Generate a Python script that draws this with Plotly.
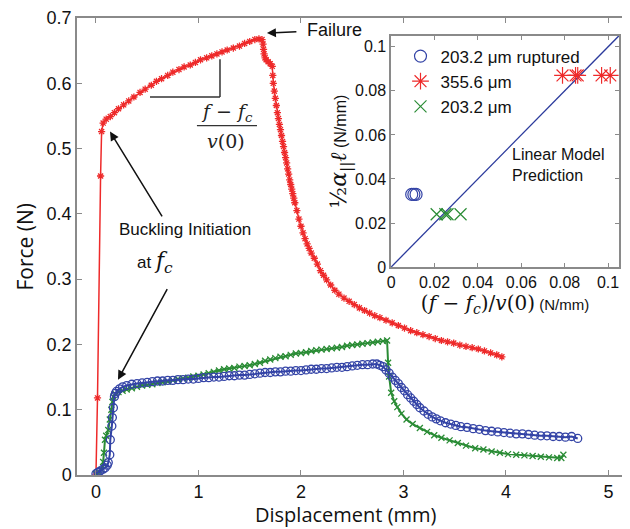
import plotly.graph_objects as go

# ---------------- main curves (Displacement mm, Force N) ----------------
red_x = [0.0, 0.015, 0.045, 0.055, 0.07, 0.10, 0.14, 0.18, 0.22, 0.27, 0.32, 0.37, 0.43, 0.48, 0.54, 0.59,
         0.64, 0.70, 0.75, 0.81, 0.86, 0.92, 0.97, 1.02, 1.08, 1.13, 1.18, 1.23, 1.28, 1.34, 1.40, 1.45,
         1.50, 1.55, 1.59, 1.62, 1.63, 1.635, 1.64, 1.65, 1.66, 1.68, 1.70, 1.72, 1.725, 1.73, 1.74, 1.75,
         1.76, 1.77, 1.78, 1.79, 1.80, 1.81, 1.82, 1.83, 1.84, 1.85, 1.86, 1.87, 1.88, 1.89, 1.90, 1.91,
         1.92, 1.93, 1.94, 1.96, 1.98, 2.00, 2.02, 2.04, 2.06, 2.08, 2.10, 2.13, 2.16, 2.19, 2.22, 2.25,
         2.29, 2.33, 2.37, 2.42, 2.47, 2.52, 2.57, 2.62, 2.67, 2.72, 2.77, 2.83, 2.89, 2.95, 3.01, 3.07,
         3.13, 3.19, 3.25, 3.31, 3.37, 3.43, 3.49, 3.55, 3.61, 3.67, 3.73, 3.79, 3.85, 3.91, 3.96]
red_y = [0.0, 0.118, 0.458, 0.526, 0.539, 0.545, 0.549, 0.555, 0.561, 0.567, 0.573, 0.579, 0.586, 0.591, 0.597, 0.603,
         0.607, 0.612, 0.617, 0.621, 0.625, 0.628, 0.632, 0.636, 0.639, 0.642, 0.645, 0.648, 0.651, 0.654, 0.657, 0.661,
         0.664, 0.667, 0.668, 0.667, 0.660, 0.652, 0.645, 0.639, 0.636, 0.633, 0.630, 0.626, 0.612, 0.600, 0.588, 0.577,
         0.566, 0.555, 0.546, 0.537, 0.529, 0.520, 0.511, 0.503, 0.494, 0.486, 0.478, 0.469, 0.461, 0.452, 0.445, 0.438,
         0.431, 0.424, 0.417, 0.405, 0.392, 0.381, 0.371, 0.362, 0.354, 0.347, 0.340, 0.332, 0.323, 0.313, 0.306, 0.299,
         0.291, 0.283, 0.277, 0.271, 0.266, 0.261, 0.256, 0.252, 0.248, 0.244, 0.241, 0.237, 0.233, 0.229, 0.225, 0.221,
         0.218, 0.215, 0.212, 0.209, 0.206, 0.204, 0.202, 0.199, 0.197, 0.195, 0.193, 0.190, 0.187, 0.184, 0.181]

blue_x = [0.0, 0.02, 0.04, 0.07, 0.09, 0.11, 0.12, 0.135, 0.14, 0.155, 0.16, 0.17, 0.18, 0.19, 0.20, 0.23, 0.26,
          0.30, 0.35, 0.40, 0.45, 0.50, 0.55, 0.60, 0.65, 0.70, 0.75, 0.80, 0.85, 0.90, 0.95, 1.00, 1.05, 1.10,
          1.15, 1.20, 1.25, 1.30, 1.35, 1.40, 1.45, 1.50, 1.55, 1.60, 1.65, 1.70, 1.75, 1.80, 1.85, 1.90, 1.95,
          2.00, 2.05, 2.10, 2.15, 2.20, 2.25, 2.30, 2.35, 2.40, 2.45, 2.50, 2.55, 2.60, 2.65, 2.70, 2.74, 2.77,
          2.80, 2.83, 2.86, 2.89, 2.92, 2.95, 2.98, 3.01, 3.04, 3.07, 3.10, 3.13, 3.16, 3.20, 3.24, 3.28, 3.32,
          3.36, 3.41, 3.46, 3.51, 3.56, 3.62, 3.68, 3.74, 3.80, 3.86, 3.92, 3.98, 4.04, 4.10, 4.16, 4.22, 4.28,
          4.34, 4.40, 4.46, 4.52, 4.58, 4.64, 4.70]
blue_y = [0.002, 0.004, 0.006, 0.009, 0.011, 0.015, 0.019, 0.031, 0.054, 0.075, 0.088, 0.103, 0.120, 0.125, 0.128, 0.132, 0.135,
          0.137, 0.139, 0.140, 0.141, 0.142, 0.143, 0.144, 0.144, 0.145, 0.145, 0.146, 0.146, 0.147, 0.147, 0.148, 0.149, 0.149,
          0.150, 0.150, 0.151, 0.152, 0.152, 0.153, 0.153, 0.154, 0.155, 0.156, 0.157, 0.157, 0.158, 0.158, 0.159, 0.159, 0.160,
          0.160, 0.161, 0.162, 0.162, 0.163, 0.163, 0.164, 0.165, 0.165, 0.166, 0.167, 0.168, 0.169, 0.169, 0.170, 0.170, 0.168,
          0.166, 0.161, 0.156, 0.150, 0.145, 0.140, 0.134, 0.129, 0.123, 0.118, 0.113, 0.108, 0.103, 0.098, 0.093, 0.089, 0.086,
          0.083, 0.080, 0.078, 0.076, 0.074, 0.073, 0.071, 0.070, 0.068, 0.067, 0.066, 0.065, 0.064, 0.063, 0.063, 0.062, 0.061,
          0.060, 0.060, 0.059, 0.059, 0.058, 0.059, 0.056]

green_x = [0.0, 0.03, 0.055, 0.07, 0.078, 0.088, 0.10, 0.12, 0.135, 0.15, 0.16, 0.17, 0.19, 0.22, 0.26, 0.30, 0.35,
           0.40, 0.45, 0.50, 0.55, 0.60, 0.65, 0.70, 0.75, 0.80, 0.85, 0.90, 0.95, 1.00, 1.05, 1.10, 1.15, 1.20,
           1.25, 1.30, 1.35, 1.40, 1.45, 1.50, 1.55, 1.60, 1.65, 1.70, 1.75, 1.80, 1.85, 1.90, 1.95, 2.00, 2.05,
           2.10, 2.15, 2.20, 2.25, 2.30, 2.35, 2.40, 2.45, 2.50, 2.55, 2.60, 2.65, 2.70, 2.75, 2.80, 2.84, 2.85,
           2.86, 2.88, 2.91, 2.94, 2.98, 3.03, 3.09, 3.16, 3.23, 3.30, 3.37, 3.45, 3.53, 3.61, 3.70, 3.78, 3.86,
           3.94, 4.02, 4.10, 4.18, 4.26, 4.34, 4.42, 4.50, 4.54, 4.56]
green_y = [0.002, 0.004, 0.008, 0.020, 0.034, 0.054, 0.060, 0.069, 0.085, 0.100, 0.112, 0.120, 0.124, 0.127, 0.129, 0.131, 0.133,
           0.135, 0.137, 0.138, 0.139, 0.141, 0.142, 0.143, 0.145, 0.147, 0.148, 0.149, 0.151, 0.152, 0.154, 0.156, 0.158, 0.160,
           0.162, 0.163, 0.164, 0.166, 0.167, 0.168, 0.170, 0.172, 0.175, 0.177, 0.179, 0.181, 0.182, 0.184, 0.186, 0.187, 0.188,
           0.190, 0.191, 0.192, 0.193, 0.194, 0.195, 0.196, 0.198, 0.199, 0.200, 0.201, 0.202, 0.203, 0.204, 0.205, 0.206, 0.172,
           0.151, 0.126, 0.113, 0.104, 0.094, 0.085, 0.078, 0.072, 0.066, 0.061, 0.057, 0.053, 0.049, 0.045, 0.041, 0.039, 0.036,
           0.034, 0.032, 0.031, 0.030, 0.029, 0.028, 0.027, 0.026, 0.026, 0.031]

# ---------------- inset data ----------------
ins_blue_x = [0.0095, 0.0105, 0.0115]
ins_blue_y = [0.033, 0.033, 0.033]
ins_red_x = [0.079, 0.085, 0.086, 0.097, 0.101]
ins_red_y = [0.087, 0.087, 0.087, 0.087, 0.087]
ins_green_x = [0.021, 0.025, 0.026, 0.032]
ins_green_y = [0.024, 0.024, 0.024, 0.024]
model_x = [0.0, 0.105]
model_y = [0.0, 0.105]

main_xticks = [0, 1, 2, 3, 4, 5]
main_yticks = [0, 0.1, 0.2, 0.3, 0.4, 0.5, 0.6, 0.7]
ins_ticks = [0, 0.02, 0.04, 0.06, 0.08, 0.1]
ins_ticktext = ["0", "0.02", "0.04", "0.06", "0.08", "0.1"]

RED = "#ee2a2a"
BLUE = "#3343a6"
GREEN = "#2a8c35"
AXC = "#8a8a8a"
SANS = "Liberation Sans, Arial, sans-serif"
SERIF = "DejaVu Serif, serif"

fig = go.Figure()

fig.add_trace(go.Scatter(x=red_x, y=red_y, mode="lines+markers", showlegend=False,
                         line=dict(color=RED, width=1.5),
                         marker=dict(symbol="asterisk-open", size=6, color=RED, line=dict(color=RED, width=1.3))))
fig.add_trace(go.Scatter(x=green_x, y=green_y, mode="lines+markers", showlegend=False,
                         line=dict(color=GREEN, width=2),
                         marker=dict(symbol="x-thin-open", size=6, color=GREEN, line=dict(color=GREEN, width=1.3))))
fig.add_trace(go.Scatter(x=blue_x, y=blue_y, mode="lines+markers", showlegend=False,
                         line=dict(color=BLUE, width=2),
                         marker=dict(symbol="circle-open", size=8, color=BLUE, line=dict(color=BLUE, width=1.3))))

# inset
fig.add_trace(go.Scatter(x=model_x, y=model_y, mode="lines", xaxis="x2", yaxis="y2", showlegend=False,
                         line=dict(color="#2b3a9c", width=1.3)))
fig.add_trace(go.Scatter(x=ins_blue_x, y=ins_blue_y, mode="markers", xaxis="x2", yaxis="y2",
                         name="203.2 μm ruptured",
                         marker=dict(symbol="circle-open", size=12, color=BLUE, line=dict(color=BLUE, width=1.2))))
fig.add_trace(go.Scatter(x=ins_red_x, y=ins_red_y, mode="markers", xaxis="x2", yaxis="y2",
                         name="355.6 μm",
                         marker=dict(symbol="asterisk-open", size=14, color=RED, line=dict(color=RED, width=1.2))))
fig.add_trace(go.Scatter(x=ins_green_x, y=ins_green_y, mode="markers", xaxis="x2", yaxis="y2",
                         name="203.2 μm",
                         marker=dict(symbol="x-thin-open", size=12, color=GREEN, line=dict(color=GREEN, width=1.2))))

ann = []
arrow = dict(showarrow=True, arrowhead=2, arrowsize=1.2, arrowwidth=1.5, arrowcolor="#111",
             axref="x", ayref="y", xref="x", yref="y", text="")
ann.append(dict(arrow, x=1.668, y=0.677, ax=1.97, ay=0.679))
ann.append(dict(arrow, x=0.137, y=0.526, ax=0.654, ay=0.394))
ann.append(dict(arrow, x=0.215, y=0.146, ax=0.703, ay=0.287))
ann.append(dict(x=2.33, y=0.682, xref="x", yref="y", text="Failure", showarrow=False,
                font=dict(family=SANS, size=18, color="#111")))
ann.append(dict(x=0.87, y=0.376, xref="x", yref="y", text="Buckling Initiation", showarrow=False,
                font=dict(family=SANS, size=17, color="#111")))
ann.append(dict(x=0.58, y=0.326, xref="x", yref="y",
                text="at <span style=\"font-family:DejaVu Serif;font-size:22px\"><i>f</i><sub><i>c</i></sub></span>",
                showarrow=False, font=dict(family=SANS, size=17, color="#111")))
ann.append(dict(x=1.28, y=0.556, xref="x", yref="y", text="<i>f</i> − <i>f</i><sub><i>c</i></sub>",
                showarrow=False, font=dict(family=SERIF, size=19, color="#222")))
ann.append(dict(x=1.27, y=0.512, xref="x", yref="y", text="<i>v</i>(0)",
                showarrow=False, font=dict(family=SERIF, size=19, color="#222")))
ann.append(dict(x=0.055, y=0.0465, xref="x2", yref="y2", xanchor="left", align="left",
                text="Linear Model<br>Prediction", showarrow=False,
                font=dict(family=SANS, size=16, color="#111")))
# main axis titles
ann.append(dict(x=0.486, y=0, xref="paper", yref="paper", yanchor="middle", yshift=-39,
                text="Displacement (mm)", showarrow=False,
                font=dict(family="Open Sans, sans-serif", size=20, color="#111")))
ann.append(dict(x=0, y=0.5, xref="paper", yref="paper", xanchor="center", xshift=-53, textangle=-90,
                text="Force (N)", showarrow=False,
                font=dict(family="Open Sans, sans-serif", size=21, color="#111")))

shapes = [
    dict(type="line", xref="x", yref="y", x0=0.527, y0=0.579, x1=1.21, y1=0.579, line=dict(color="#333", width=1.5)),
    dict(type="line", xref="x", yref="y", x0=1.21, y0=0.579, x1=1.21, y1=0.637, line=dict(color="#333", width=1.5)),
    dict(type="line", xref="x", yref="y", x0=0.985, y0=0.535, x1=1.571, y1=0.535, line=dict(color="#333", width=1.2)),
]

axis_common = dict(showline=True, linecolor=AXC, linewidth=1.5, ticks="inside", tickcolor=AXC,
                   ticklen=5, tickwidth=1.2, showgrid=False, zeroline=False, automargin=False,
                   tickfont=dict(family=SANS, size=18, color="#111"))

# page body adds an 8px margin, so the figure is 8px smaller than the window
fig.update_layout(
    width=622, height=521,
    margin=dict(l=69, r=0, t=10, b=54),
    paper_bgcolor="white", plot_bgcolor="white",
    xaxis=dict(axis_common, range=[-0.185, 5.21], tickvals=main_xticks, mirror="ticks"),
    yaxis=dict(axis_common, range=[0, 0.7], tickvals=main_yticks, mirror=False),
    xaxis2=dict(axis_common, domain=[0.568, 0.980], anchor="y2", range=[0, 0.105], mirror="ticks",
                tickvals=ins_ticks, ticktext=ins_ticktext, ticklen=4,
                tickfont=dict(family=SANS, size=16, color="#111"),
                title=dict(text="<span style=\"font-family:DejaVu Serif;font-size:20px\">(<i>f</i> − <i>f</i><sub><i>c</i></sub>)/<i>v</i>(0)</span> (N/mm)",
                           font=dict(family=SANS, size=15, color="#111"), standoff=2)),
    yaxis2=dict(axis_common, domain=[0.455, 0.961], anchor="x2", range=[0, 0.105], mirror="ticks",
                tickvals=ins_ticks, ticktext=ins_ticktext, ticklen=4,
                tickfont=dict(family=SANS, size=16, color="#111"),
                title=dict(text="<span style=\"font-family:DejaVu Serif;font-size:22px\">½<i>α</i><sub>||</sub><i>ℓ</i></span> (N/mm)",
                           font=dict(family=SANS, size=16, color="#111"), standoff=2)),
    legend=dict(x=0.585, y=0.955, xanchor="left", yanchor="top", bgcolor="rgba(0,0,0,0)",
                font=dict(family=SANS, size=17, color="#111"), itemwidth=30, tracegroupgap=0),
    annotations=ann,
    shapes=shapes,
)

fig.write_html("out.html")
